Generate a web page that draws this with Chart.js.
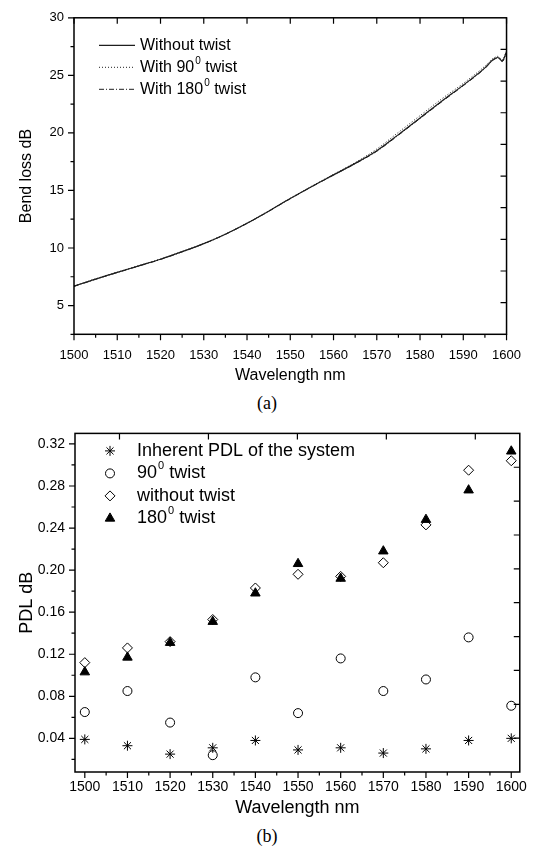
<!DOCTYPE html>
<html>
<head>
<meta charset="utf-8">
<script src="https://cdn.jsdelivr.net/npm/chart.js@4.4.1/dist/chart.umd.min.js"></script>
<style>
  body { margin: 0; background: #fff; width: 534px; height: 848px; position: relative; overflow: hidden; }
  canvas { position: absolute; left: 0; }
  #bend { top: 0; }
  #pdl { top: 415px; }
  .cap { position: absolute; left: 0; width: 534px; text-align: center;
         font-family: "Liberation Serif", "Times New Roman", serif; font-size: 18px; line-height: 20px; }
</style>
</head>
<body>
<canvas id="bend" width="534" height="392"></canvas>
<div class="cap" style="top:393px">(a)</div>
<canvas id="pdl" width="534" height="410"></canvas>
<div class="cap" style="top:826px">(b)</div>

<script>
// ---- (a) bend loss vs wavelength
const bendWave = [1500, 1505, 1510, 1515, 1520, 1525, 1530, 1535, 1540, 1545, 1550, 1555,
                  1560, 1565, 1570, 1575, 1580, 1585, 1590, 1595, 1597, 1598, 1599, 1600];
const lossNoTwist = [6.68, 7.30, 7.88, 8.45, 9.02, 9.68, 10.38, 11.20, 12.15, 13.20, 14.30, 15.35,
                     16.35, 17.35, 18.45, 19.85, 21.30, 22.75, 24.15, 25.65, 26.40, 26.55, 26.25, 27.05];
const loss90 =      [6.70, 7.32, 7.90, 8.47, 9.04, 9.70, 10.40, 11.22, 12.17, 13.22, 14.32, 15.38,
                     16.40, 17.42, 18.60, 20.05, 21.50, 22.95, 24.30, 25.80, 26.50, 26.65, 26.35, 27.10];
const loss180 =     [6.66, 7.28, 7.86, 8.43, 9.00, 9.66, 10.36, 11.18, 12.13, 13.18, 14.28, 15.33,
                     16.33, 17.32, 18.40, 19.80, 21.25, 22.70, 24.10, 25.60, 26.35, 26.50, 26.20, 27.00];
const bendXTicks = [1500, 1510, 1520, 1530, 1540, 1550, 1560, 1570, 1580, 1590, 1600];
const bendYTicks = [5, 10, 15, 20, 25, 30];

// ---- (b) PDL vs wavelength
const pdlWave = [1500, 1510, 1520, 1530, 1540, 1550, 1560, 1570, 1580, 1590, 1600];
const pdlInherent = [0.039, 0.033, 0.025, 0.031, 0.038, 0.029, 0.031, 0.026, 0.030, 0.038, 0.040];
const pdl90 =       [0.065, 0.085, 0.055, 0.024, 0.098, 0.064, 0.116, 0.085, 0.096, 0.136, 0.071];
const pdlNoTwist =  [0.112, 0.126, 0.132, 0.153, 0.183, 0.196, 0.194, 0.207, 0.243, 0.295, 0.304];
const pdl180 =      [0.103, 0.117, 0.131, 0.151, 0.178, 0.206, 0.192, 0.218, 0.248, 0.276, 0.313];
const pdlXTicks = [1500, 1510, 1520, 1530, 1540, 1550, 1560, 1570, 1580, 1590, 1600];
const pdlYTicks = [0.04, 0.08, 0.12, 0.16, 0.20, 0.24, 0.28, 0.32];

const FONT = '"Liberation Sans", Arial, Helvetica, sans-serif';
Chart.defaults.font.family = FONT;
Chart.defaults.color = '#000';

const pts = (xs, ys) => xs.map((x, i) => ({ x: x, y: ys[i] }));
const mids = (arr) => arr.slice(1).map((v, i) => (v + arr[i]) / 2);

// text with a superscript "0" where the label has ⁰
function drawLabel(ctx, text, x, y, size) {
  const parts = text.split('\u2070');
  ctx.fillStyle = '#000';
  ctx.textBaseline = 'middle';
  ctx.textAlign = 'left';
  parts.forEach((p, k) => {
    ctx.font = size + 'px ' + FONT;
    ctx.fillText(p, x, y);
    x += ctx.measureText(p).width;
    if (k < parts.length - 1) {
      const s = Math.round(size * 0.6);
      ctx.font = s + 'px ' + FONT;
      ctx.fillText('0', x + 1, y - size * 0.4);
      x += ctx.measureText('0').width + 1;
    }
  });
}

// legend inside the plot
const inLegend = {
  id: 'inLegend',
  afterDatasetsDraw(chart, args, o) {
    const { ctx, chartArea: a } = chart;
    ctx.save();
    chart.data.datasets.forEach((ds, i) => {
      const y = a.top + o.top + i * o.gap;
      if (o.kind === 'line') {
        ctx.strokeStyle = ds.borderColor;
        ctx.lineWidth = ds.borderWidth;
        ctx.setLineDash(ds.borderDash || []);
        ctx.beginPath();
        ctx.moveTo(a.left + o.x0, y);
        ctx.lineTo(a.left + o.x1, y);
        ctx.stroke();
        ctx.setLineDash([]);
      } else {
        ctx.fillStyle = ds.backgroundColor;
        ctx.strokeStyle = ds.borderColor;
        ctx.lineWidth = ds.borderWidth;
        Chart.helpers.drawPoint(ctx, { pointStyle: ds.pointStyle, radius: ds.pointRadius,
          borderWidth: ds.borderWidth, rotation: 0 }, a.left + o.x0, y);
      }
      drawLabel(ctx, ds.label, a.left + o.textX, y, o.size);
    });
    ctx.restore();
  }
};

// Origin-like box: ticks out on left/bottom, in on top/right
const frameTicks = {
  id: 'frameTicks',
  afterDatasetsDraw(chart, args, o) {
    const { ctx, chartArea: a, scales: { x, y } } = chart;
    ctx.save();
    ctx.strokeStyle = '#000';
    ctx.lineWidth = 1.5;
    ctx.strokeRect(a.left, a.top, a.right - a.left, a.bottom - a.top);
    ctx.lineWidth = 1.2;
    ctx.beginPath();
    const tick = (x1, y1, x2, y2) => { ctx.moveTo(x1, y1); ctx.lineTo(x2, y2); };
    o.xMajor.forEach(v => { const p = x.getPixelForValue(v); tick(p, a.bottom, p, a.bottom + 6); });
    mids(o.xMajor).forEach(v => { const p = x.getPixelForValue(v); tick(p, a.bottom, p, a.bottom + 3.5); });
    const yMinor = mids([o.yMajor[0] - (o.yMajor[1] - o.yMajor[0])].concat(o.yMajor));
    o.yMajor.forEach(v => { const p = y.getPixelForValue(v); tick(a.left, p, a.left - 6, p); });
    yMinor.forEach(v => { const p = y.getPixelForValue(v); if (p <= a.bottom) tick(a.left, p, a.left - 3.5, p); });
    if (o.topFrac) {
      o.topFrac.forEach(f => { const p = a.left + f * (a.right - a.left); tick(p, a.top, p, a.top + 6); });
    } else {
      o.xMajor.forEach(v => { const p = x.getPixelForValue(v); tick(p, a.top, p, a.top + 6); });
    }
    for (let k = 1; k < o.rightDiv; k++) {
      const p = a.bottom - k * (a.bottom - a.top) / o.rightDiv;
      tick(a.right, p, a.right - 6, p);
    }
    ctx.stroke();
    ctx.restore();
  }
};

function axes(cfg) {
  return {
    x: {
      type: 'linear', min: cfg.xMin, max: cfg.xMax,
      afterBuildTicks: s => { s.ticks = cfg.xTicks.map(v => ({ value: v })); },
      afterFit: s => { s.height = cfg.xH; },
      grid: { display: false, drawTicks: false },
      border: { display: false },
      ticks: { font: { size: cfg.tickSize }, padding: cfg.xPad, maxRotation: 0, autoSkip: false,
               callback: v => v },
      title: { display: true, text: 'Wavelength nm', font: { size: cfg.titleSize },
               padding: { top: 0, bottom: cfg.xTitlePad } }
    },
    y: {
      type: 'linear', min: cfg.yMin, max: cfg.yMax,
      afterBuildTicks: s => { s.ticks = cfg.yTicks.map(v => ({ value: v })); },
      afterFit: s => { s.width = cfg.yW; },
      grid: { display: false, drawTicks: false },
      border: { display: false },
      ticks: { font: { size: cfg.tickSize }, padding: 10, autoSkip: false, callback: cfg.yFmt },
      title: { display: true, text: cfg.yTitle, font: { size: cfg.titleSize },
               padding: { top: cfg.yTitlePad, bottom: 0 } }
    }
  };
}

const lineColor = '#1e1e1e';
new Chart(document.getElementById('bend'), {
  type: 'scatter',
  data: {
    datasets: [
      { label: 'Without twist', data: pts(bendWave, lossNoTwist), showLine: true, pointRadius: 0,
        borderColor: lineColor, borderWidth: 1.2, cubicInterpolationMode: 'monotone' },
      { label: 'With 90\u2070 twist', data: pts(bendWave, loss90), showLine: true, pointRadius: 0,
        borderColor: lineColor, borderWidth: 1, borderDash: [1, 2], cubicInterpolationMode: 'monotone' },
      { label: 'With 180\u2070 twist', data: pts(bendWave, loss180), showLine: true, pointRadius: 0,
        borderColor: lineColor, borderWidth: 1, borderDash: [5, 2, 1, 2], cubicInterpolationMode: 'monotone' }
    ]
  },
  options: {
    responsive: false, animation: false, events: [],
    layout: { padding: { top: 12.7, right: 14, left: 0, bottom: 0 } },
    scales: axes({ xMin: 1500, xMax: 1600, xTicks: bendXTicks, xH: 57.7, xPad: 13, xTitlePad: 7,
                   yMin: 2.5, yMax: 30, yTicks: bendYTicks, yW: 74, yFmt: v => v,
                   yTitle: 'Bend loss dB', yTitlePad: 17, tickSize: 13, titleSize: 16 }),
    plugins: {
      legend: { display: false }, tooltip: { enabled: false },
      inLegend: { kind: 'line', top: 27.5, gap: 22, x0: 25, x1: 61, textX: 66, size: 16 },
      frameTicks: { xMajor: bendXTicks, yMajor: bendYTicks, rightDiv: 10 }
    }
  },
  plugins: [frameTicks, inLegend]
});

new Chart(document.getElementById('pdl'), {
  type: 'scatter',
  data: {
    datasets: [
      { label: 'Inherent PDL of the system', data: pts(pdlWave, pdlInherent), pointStyle: 'star',
        pointRadius: 5, borderWidth: 1, borderColor: '#000', backgroundColor: '#000' },
      { label: '90\u2070 twist', data: pts(pdlWave, pdl90), pointStyle: 'circle',
        pointRadius: 4.5, borderWidth: 1, borderColor: '#000', backgroundColor: 'rgba(0,0,0,0)' },
      { label: 'without twist', data: pts(pdlWave, pdlNoTwist), pointStyle: 'rectRot',
        pointRadius: 5, borderWidth: 1, borderColor: '#000', backgroundColor: 'rgba(0,0,0,0)' },
      { label: '180\u2070 twist', data: pts(pdlWave, pdl180), pointStyle: 'triangle',
        pointRadius: 5.5, borderWidth: 1, borderColor: '#000', backgroundColor: '#000' }
    ]
  },
  options: {
    responsive: false, animation: false, events: [],
    layout: { padding: { top: 10, right: 9, left: 0, bottom: 0 } },
    scales: axes({ xMin: 1497.7, xMax: 1602, xTicks: pdlXTicks, xH: 53, xPad: 7, xTitlePad: 6,
                   yMin: 0.008, yMax: 0.33, yTicks: pdlYTicks, yW: 75, yFmt: v => v.toFixed(2),
                   yTitle: 'PDL dB', yTitlePad: 16, tickSize: 14, titleSize: 18 }),
    plugins: {
      legend: { display: false }, tooltip: { enabled: false },
      inLegend: { kind: 'point', top: 17.5, gap: 22.5, x0: 35, textX: 62, size: 18 },
      frameTicks: { xMajor: pdlXTicks, yMajor: pdlYTicks, rightDiv: 10, topFrac: [0.1, 0.3, 0.5, 0.7, 0.9] }
    }
  },
  plugins: [frameTicks, inLegend]
});
</script>
</body>
</html>
